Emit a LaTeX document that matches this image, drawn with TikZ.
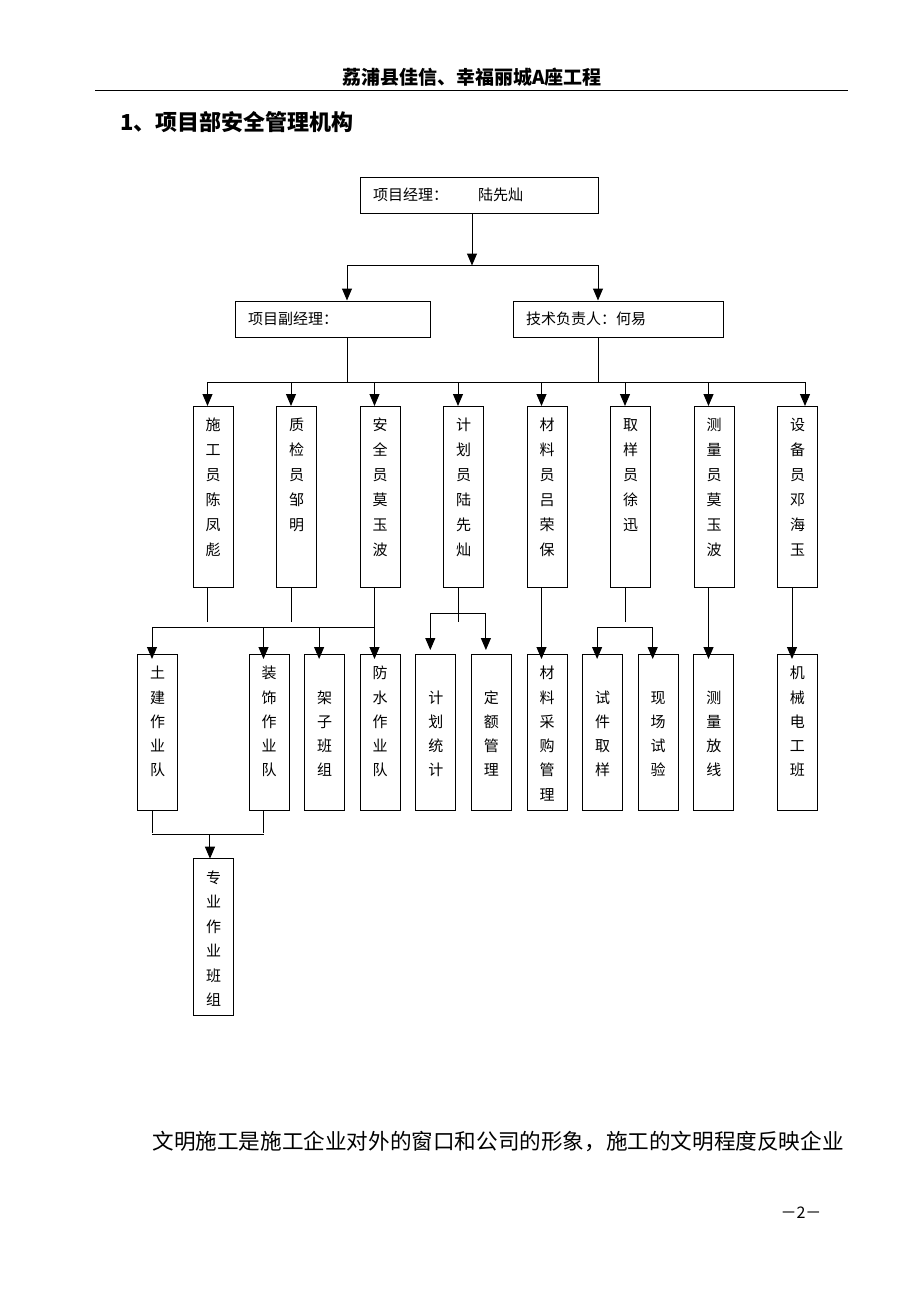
\documentclass[tikz,border=0pt]{standalone}
\usepackage{fontspec}
\setmainfont{Noto Sans CJK SC}
\usepackage{tikz}
\usetikzlibrary{positioning,arrows.meta}

% vertical text, one character per line, from the top of the box
\newcommand{\shubox}[3]{\parbox[t][#1][t]{40pt}{\centering\fontsize{15pt}{#2}\selectfont\rule{0pt}{24.7pt}#3}}

\tikzset{
  lead/.style={draw, minimum height=36pt, inner xsep=13pt, inner ysep=0pt,
    align=left, font=\fontsize{15pt}{18pt}\selectfont},
  post/.style={draw, inner sep=0pt, outer sep=0pt},
  intobox/.style={shorten >=-5pt},
}

\begin{document}
\begin{tikzpicture}[x=1pt,y=-1pt,line width=1pt,>={Triangle[length=12pt,width=10pt]}]
\useasboundingbox (0,0) rectangle (920,1302);

\node[font=\bfseries\fontsize{19pt}{19pt}\selectfont] (header) at (472,77) {荔浦县佳信、幸福丽城A座工程};
\draw[line width=1pt] (95,90) -- (848,90);

\node[anchor=west, inner sep=0pt,
    font=\bfseries\fontsize{22pt}{22pt}\selectfont
] (title) at (120,122) {1、项目部安全管理机构};

% leaders
\node[lead, text width=212pt] (jingli) at (479,195) {项目经理：\hspace{30pt}陆先灿};
\node[lead, text width=169pt] (fujingli) at (332.5,319) {项目副经理：};
\node[lead, text width=184pt] (jishu) at (618,319) {技术负责人：何易};

% staff
\node[post, anchor=north] (shigong) at (213,406) {\shubox{181pt}{25pt}{施\\工\\员\\陈\\凤\\彪}};
\node[post, right=43.5pt of shigong] (zhijian) {\shubox{181pt}{25pt}{质\\检\\员\\邹\\明}};
\node[post, right=43.5pt of zhijian] (anquan) {\shubox{181pt}{25pt}{安\\全\\员\\莫\\玉\\波}};
\node[post, right=43.5pt of anquan] (jihua) {\shubox{181pt}{25pt}{计\\划\\员\\陆\\先\\灿}};
\node[post, right=43.5pt of jihua] (cailiao) {\shubox{181pt}{25pt}{材\\料\\员\\吕\\荣\\保}};
\node[post, right=43.5pt of cailiao] (quyang) {\shubox{181pt}{25pt}{取\\样\\员\\徐\\迅}};
\node[post, right=43.5pt of quyang] (celiang) {\shubox{181pt}{25pt}{测\\量\\员\\莫\\玉\\波}};
\node[post, right=43.5pt of celiang] (shebei) {\shubox{181pt}{25pt}{设\\备\\员\\邓\\海\\玉}};

% teams
\node[post, anchor=north] (tujian) at (157.5,654) {\shubox{156.7pt}{24.3pt}{土\\建\\作\\业\\队}};
\node[post, right=71.5pt of tujian] (zhuangshi) {\shubox{156.7pt}{24.3pt}{装\\饰\\作\\业\\队}};
\node[post, right=15.6pt of zhuangshi] (jiazi) {\shubox{156.7pt}{24.3pt}{\\架\\子\\班\\组}};
\node[post, right=15.6pt of jiazi] (fangshui) {\shubox{156.7pt}{24.3pt}{防\\水\\作\\业\\队}};
\node[post, right=15.6pt of fangshui] (tongji) {\shubox{156.7pt}{24.3pt}{\\计\\划\\统\\计}};
\node[post, right=15.6pt of tongji] (dinge) {\shubox{156.7pt}{24.3pt}{\\定\\额\\管\\理}};
\node[post, right=15.6pt of dinge] (caigou) {\shubox{156.7pt}{24.3pt}{材\\料\\采\\购\\管\\理}};
\node[post, right=15.6pt of caigou] (shijian) {\shubox{156.7pt}{24.3pt}{\\试\\件\\取\\样}};
\node[post, right=15.6pt of shijian] (xianchang) {\shubox{156.7pt}{24.3pt}{\\现\\场\\试\\验}};
\node[post, right=15.6pt of xianchang] (fangxian) {\shubox{156.7pt}{24.3pt}{\\测\\量\\放\\线}};
\node[post, right=43.5pt of fangxian] (jixie) {\shubox{156.7pt}{24.3pt}{机\\械\\电\\工\\班}};

\node[post, anchor=north] (zhuanye) at (213.5,858.7) {\shubox{156.7pt}{24.5pt}{专\\业\\作\\业\\班\\组}};

% top to leaders
\draw[->] ([xshift=-7pt]jingli.south) -- ++(0,52) coordinate (fen1);
\draw[->] (fen1) -| ([xshift=14.5pt]fujingli.north);
\draw[->] (fen1) -| ([xshift=-20pt]jishu.north);

% leaders to staff
\draw ([xshift=14.5pt]fujingli.south) -- ++(0,45) coordinate (fen2);
\draw ([xshift=-20pt]jishu.south) -- ++(0,45);
\draw[->] (fen2) -| ([xshift=-5.5pt]shigong.north);
\draw[->] (fen2) -| ([xshift=-5.5pt]zhijian.north);
\draw[->] (fen2) -| ([xshift=-5.5pt]anquan.north);
\draw[->] (fen2) -| ([xshift=-5.5pt]jihua.north);
\draw[->] (fen2) -| ([xshift=-5.5pt]cailiao.north);
\draw[->] (fen2) -| ([xshift=-5.5pt]quyang.north);
\draw[->] (fen2) -| ([xshift=-5.5pt]celiang.north);
\draw[->] (fen2) -| ([xshift=7.5pt]shebei.north);

% staff to teams
\draw ([xshift=-5.5pt]shigong.south) -- ++(0,35);
\draw ([xshift=-5.5pt]zhijian.south) -- ++(0,35);
\draw ([xshift=-5.5pt]anquan.south) -- ++(0,40) coordinate (fen3);
\draw[->, intobox] (fen3) -| ([xshift=-5.5pt]tujian.north);
\draw[->, intobox] (fen3) -| ([xshift=-5.5pt]zhuangshi.north);
\draw[->, intobox] (fen3) -| ([xshift=-5.5pt]jiazi.north);
\draw[->, intobox] (fen3) -- (fen3 |- fangshui.north);

\draw ([xshift=-5.5pt]jihua.south) -- ++(0,35) coordinate[pos=0.77] (fen4);
\draw[->, shorten >=4pt] (fen4) -| ([xshift=-5.5pt]tongji.north);
\draw[->, shorten >=4pt] (fen4) -| ([xshift=-5.5pt]dinge.north);

\draw[->, intobox] ([xshift=-5.5pt]cailiao.south) coordinate (cl) -- (cl |- caigou.north);

\draw ([xshift=-5.5pt]quyang.south) -- ++(0,35);
\coordinate (fen5) at ([xshift=-5.5pt,yshift=-40pt]quyang.south);
\draw[->, intobox] (fen5) -| ([xshift=-5.5pt]shijian.north);
\draw[->, intobox] (fen5) -| ([xshift=-5.5pt]xianchang.north);

\draw[->, intobox] ([xshift=-5.5pt]celiang.south) coordinate (cy) -- (cy |- fangxian.north);
\draw[->, intobox] ([xshift=-5.5pt]shebei.south) coordinate (sb) -- (sb |- jixie.north);

% teams to special crews
\draw ([xshift=-5.5pt]tujian.south) -- ++(0,22);
\draw ([xshift=-5.5pt]zhuangshi.south) -- ++(0,22);
\draw ([xshift=-5.5pt,yshift=-24pt]tujian.south) -- ([xshift=-5.5pt,yshift=-24pt]zhuangshi.south) coordinate[pos=0.52] (fen6);
\draw[->] (fen6) -- (fen6 |- zhuanye.north);

\node[anchor=west, inner sep=0pt,
    font=\fontsize{21.6pt}{21.6pt}\selectfont
] (para) at (152,1141) {文明施工是施工企业对外的窗口和公司的形象，施工的文明程度反映企业};

\node[font=\fontsize{16pt}{16pt}\selectfont] (page) at (801,1213) {－2－};

\end{tikzpicture}
\end{document}
